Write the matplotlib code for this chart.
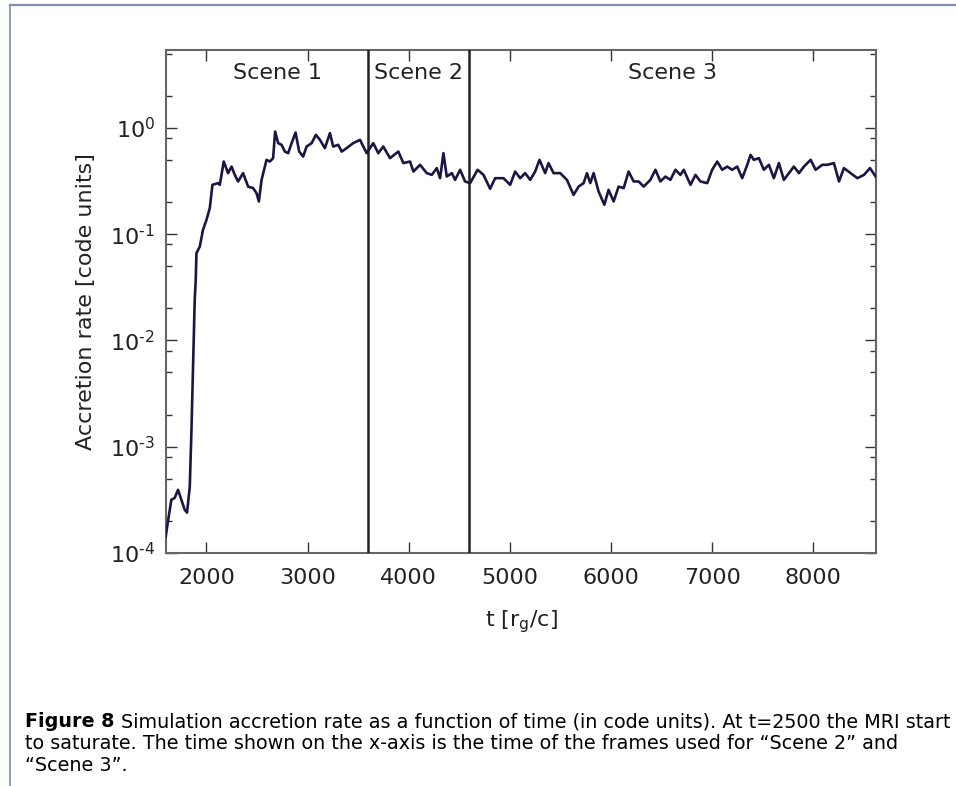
import matplotlib
matplotlib.use("Agg")
import matplotlib.pyplot as plt
from matplotlib.lines import Line2D
from matplotlib.ticker import LogLocator, FixedLocator, NullFormatter, FuncFormatter
import numpy as np

# ---- data ----
time = [1597, 1617, 1653, 1686, 1719, 1752, 1785, 1808, 1835, 1851, 1867, 1884, 1894,
        1901, 1934, 1966, 2000, 2033, 2059, 2115, 2132, 2171, 2214, 2248, 2280, 2313,
        2362, 2412, 2461, 2495, 2518, 2545, 2594, 2627, 2659, 2679, 2709, 2743, 2775,
        2808, 2842, 2881, 2917, 2956, 2990, 3040, 3082, 3122, 3171, 3221, 3253, 3303,
        3337, 3386, 3451, 3518, 3567, 3584, 3649, 3699, 3748, 3815, 3897, 3947, 4013,
        4046, 4112, 4178, 4228, 4277, 4310, 4343, 4376, 4426, 4458, 4508, 4557, 4607,
        4681, 4739, 4805, 4854, 4937, 5003, 5052, 5102, 5151, 5201, 5250, 5293, 5349,
        5382, 5432, 5498, 5564, 5630, 5679, 5729, 5762, 5795, 5828, 5877, 5934, 5976,
        6026, 6075, 6125, 6174, 6224, 6273, 6323, 6389, 6439, 6488, 6538, 6587, 6637,
        6686, 6719, 6786, 6835, 6884, 6951, 7000, 7050, 7099, 7149, 7198, 7248, 7297,
        7347, 7380, 7412, 7462, 7511, 7561, 7610, 7660, 7709, 7759, 7808, 7858, 7907,
        7974, 8023, 8089, 8139, 8204, 8254, 8303, 8369, 8436, 8501, 8560, 8617]
accretion_rate = [1.42e-4, 1.92e-4, 3.17e-4, 3.30e-4, 3.93e-4, 3.17e-4, 2.55e-4, 2.40e-4,
                  4.2e-4, 1.35e-3, 5.7e-3, 0.0241, 0.0372, 0.0662, 0.0764, 0.110, 0.136,
                  0.176, 0.291, 0.302, 0.291, 0.482, 0.375, 0.432, 0.361, 0.313, 0.375,
                  0.280, 0.271, 0.243, 0.203, 0.324, 0.50, 0.482, 0.519, 0.923, 0.718,
                  0.692, 0.598, 0.578, 0.718, 0.903, 0.598, 0.537, 0.667, 0.718, 0.859,
                  0.771, 0.644, 0.892, 0.667, 0.692, 0.598, 0.644, 0.718, 0.771, 0.621,
                  0.578, 0.718, 0.578, 0.667, 0.519, 0.598, 0.466, 0.482, 0.388, 0.449,
                  0.375, 0.361, 0.418, 0.336, 0.578, 0.348, 0.375, 0.324, 0.403, 0.313,
                  0.302, 0.403, 0.361, 0.267, 0.336, 0.336, 0.291, 0.388, 0.336, 0.375,
                  0.324, 0.388, 0.50, 0.375, 0.466, 0.375, 0.375, 0.324, 0.234, 0.280,
                  0.302, 0.375, 0.302, 0.375, 0.252, 0.189, 0.261, 0.203, 0.280, 0.271,
                  0.388, 0.313, 0.313, 0.280, 0.324, 0.403, 0.313, 0.348, 0.324, 0.403,
                  0.361, 0.403, 0.291, 0.361, 0.313, 0.302, 0.403, 0.482, 0.403, 0.432,
                  0.403, 0.432, 0.336, 0.449, 0.557, 0.50, 0.519, 0.403, 0.449, 0.336,
                  0.466, 0.324, 0.375, 0.432, 0.375, 0.432, 0.50, 0.403, 0.449, 0.449,
                  0.466, 0.313, 0.418, 0.375, 0.336, 0.361, 0.418, 0.348]
scene_bounds = [3600, 4600]
scene_labels = ["Scene 1", "Scene 2", "Scene 3"]
scene_label_t = [2700, 4100, 6610]
xticks = [2000, 3000, 4000, 5000, 6000, 7000, 8000]

caption_bold = "Figure 8"
caption_lines = [
    "Simulation accretion rate as a function of time (in code units). At t=2500 the MRI start",
    "to saturate. The time shown on the x-axis is the time of the frames used for \u201cScene 2\u201d and",
    "\u201cScene 3\u201d.",
]

# ---- figure ----
fig = plt.figure(figsize=(9.56, 7.86), dpi=100)
W, H = 956, 786
ax = fig.add_axes([166 / W, 1 - 553 / H, (876 - 166) / W, (553 - 50) / H])

ax.plot(time, accretion_rate, color="#1e1442", lw=1.9, zorder=3)
for b in scene_bounds:
    ax.axvline(b, color="#222222", lw=1.8, zorder=4)

ax.set_yscale("log")
ax.set_xlim(1600, 8620)
ax.set_ylim(1e-4, 5.4)


def log_fmt(v, pos):
    e = int(round(np.log10(v)))
    if e < 0:
        return r"$\mathdefault{10^{\text{-}%d}}$" % (-e)
    return r"$\mathdefault{10^{%d}}$" % e


ax.xaxis.set_major_locator(FixedLocator(xticks))
ax.yaxis.set_major_locator(LogLocator(base=10, numticks=10))
ax.yaxis.set_major_formatter(FuncFormatter(log_fmt))
ax.yaxis.set_minor_locator(LogLocator(base=10, subs=[2, 5, 8], numticks=20))
ax.yaxis.set_minor_formatter(NullFormatter())

ax.tick_params(which="both", direction="in", top=True, right=True, colors="#333333",
               labelcolor="#222222", labelsize=16, width=1.0)
ax.tick_params(axis="x", which="major", length=8, pad=11)
ax.tick_params(axis="y", which="major", length=8, pad=8)
ax.tick_params(which="minor", length=4)
for s in ax.spines.values():
    s.set_color("#666666")
    s.set_linewidth(1.5)

ax.set_xlabel(r"t [r$_\mathrm{g}$/c]", fontsize=16, color="#222222", labelpad=14)
ax.set_ylabel("Accretion rate [code units]", fontsize=16, color="#222222", labelpad=10)

for lab, t in zip(scene_labels, scene_label_t):
    ax.text(t, 0.954, lab, transform=ax.get_xaxis_transform(), ha="center", va="center",
            fontsize=16, color="#222222")

# page frame
frame_col = "#7d8ea8"
fig.add_artist(Line2D([9.5 / W, 9.5 / W], [0, 1 - 5 / H], transform=fig.transFigure,
                      color=frame_col, lw=1.2))
fig.add_artist(Line2D([9.5 / W, 1], [1 - 5 / H, 1 - 5 / H], transform=fig.transFigure,
                      color=frame_col, lw=1.6))

# caption: size fitted so the first line spans the reference width (25..952 px)
cap_font = "DejaVu Sans"
baselines = [727, 749, 771]
renderer = fig.canvas.get_renderer()
pr = fig.text(0, 0, caption_lines[0], fontsize=10, family=cap_font)
wr = pr.get_window_extent(renderer).width
pr.remove()
pb = fig.text(0, 0, caption_bold, fontsize=10, family=cap_font, fontweight="bold")
wb = pb.get_window_extent(renderer).width
pb.remove()
gap = 10 * 0.32 * 100 / 72
cap_size = 10 * 927 / (wr + wb + gap)
scale = cap_size / 10

x_left = 25
fig.text(x_left / W, 1 - baselines[0] / H, caption_bold, fontsize=cap_size, fontweight="bold",
         family=cap_font, va="baseline", ha="left", color="black")
x_rest = x_left + (wb + gap) * scale
for i, (line, yb) in enumerate(zip(caption_lines, baselines)):
    x0 = x_rest if i == 0 else x_left
    fig.text(x0 / W, 1 - yb / H, line, fontsize=cap_size, family=cap_font,
             va="baseline", ha="left", color="black")

fig.savefig("out.png", dpi=100)
